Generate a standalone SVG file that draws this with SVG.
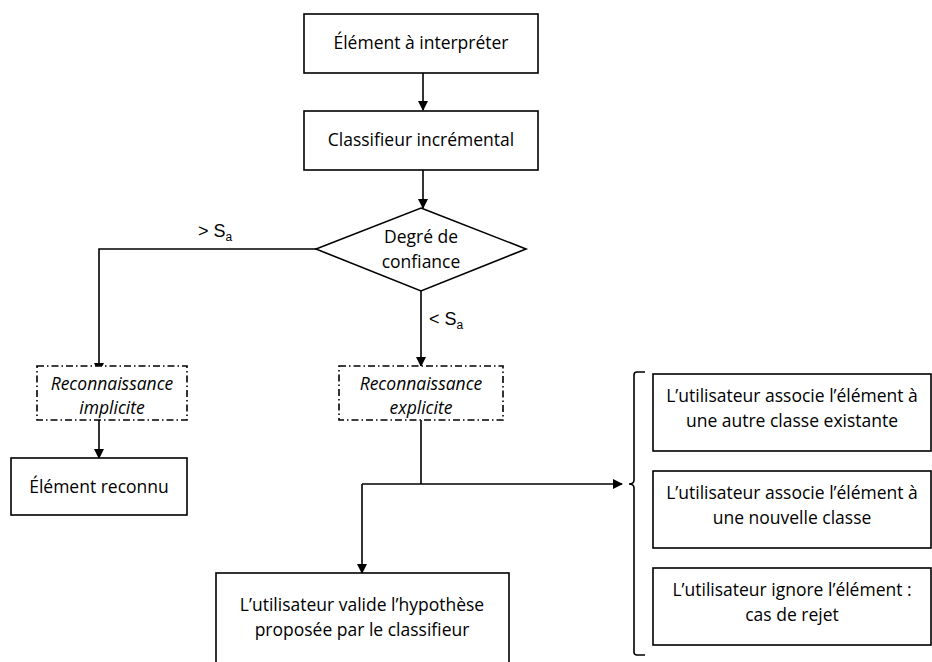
<svg xmlns="http://www.w3.org/2000/svg" width="932" height="662" viewBox="0 0 932 662">
<style>
.b{fill:#fff;stroke:#000;stroke-width:1.6}
.d{fill:#fff;stroke:#000;stroke-width:1.6;stroke-dasharray:7,3,1.5,3}
.t{font-family:"Open Sans","Liberation Sans",sans-serif;font-size:17.5px;fill:#000;text-anchor:middle}
.s{font-family:"Liberation Sans",Arial,sans-serif;font-size:18px;fill:#000;text-anchor:middle}
.i{font-style:italic}
.c{fill:none;stroke:#000;stroke-width:1.6}
</style>
<defs>
<marker id="a" markerWidth="10" markerHeight="10" refX="9" refY="5" orient="auto" markerUnits="userSpaceOnUse">
<path d="M0,0 L10,5 L0,10 z" fill="#000"/>
</marker>
</defs>
<g id="connectors">
<line class="c" x1="423" y1="73" x2="423" y2="110" marker-end="url(#a)"/>
<line class="c" x1="423" y1="170" x2="423" y2="208" marker-end="url(#a)"/>
<polyline class="c" points="316,249 99,249 99,372" marker-end="url(#a)"/>
<line class="c" x1="421" y1="291" x2="421" y2="366" marker-end="url(#a)"/>
<line class="c" x1="99" y1="420" x2="99" y2="458" marker-end="url(#a)"/>
<line class="c" x1="421" y1="420" x2="421" y2="484"/>
<line class="c" x1="362" y1="484" x2="622" y2="484" marker-end="url(#a)"/>
<line class="c" x1="362" y1="484" x2="362" y2="573" marker-end="url(#a)"/>
<path class="c" d="M645,372 H637 Q634,372 634,375 V480 Q634,484 629,484 Q634,484 634,488 V652 Q634,655 637,655 H645"/>
<text class="s" x="215" y="237">&gt; S<tspan font-size="12" dy="4">a</tspan></text>
<text class="s" x="446" y="325">&lt; S<tspan font-size="12" dy="4">a</tspan></text>
</g>
<g id="n1"><rect class="b" x="304" y="14" width="234" height="59"/><text class="t" x="421" y="49">Élément à interpréter</text></g>
<g id="n2"><rect class="b" x="304" y="111" width="234" height="59"/><text class="t" x="421" y="146">Classifieur incrémental</text></g>
<g id="n3"><polygon class="b" points="421,208 526,249 421,291 316,249"/><text class="t" x="421" y="243">Degré de</text><text class="t" x="421" y="268">confiance</text></g>
<g id="n4"><rect class="d" x="37" y="366" width="150" height="54"/><text class="t i" x="112" y="390">Reconnaissance</text><text class="t i" x="112" y="414">implicite</text></g>
<g id="n5"><rect class="d" x="339" y="366" width="164" height="54"/><text class="t i" x="421" y="390">Reconnaissance</text><text class="t i" x="421" y="414">explicite</text></g>
<g id="n6"><rect class="b" x="11" y="458" width="176" height="57"/><text class="t" x="99" y="493">Élément reconnu</text></g>
<g id="n7"><rect class="b" x="216" y="573" width="293" height="92"/><text class="t" x="362" y="611">L’utilisateur valide l’hypothèse</text><text class="t" x="362" y="636">proposée par le classifieur</text></g>
<g id="n8"><rect class="b" x="653" y="374" width="278" height="77"/><text class="t" x="792" y="402">L’utilisateur associe l’élément à</text><text class="t" x="792" y="427">une autre classe existante</text></g>
<g id="n9"><rect class="b" x="653" y="471" width="278" height="77"/><text class="t" x="792" y="499">L’utilisateur associe l’élément à</text><text class="t" x="792" y="524">une nouvelle classe</text></g>
<g id="n10"><rect class="b" x="653" y="568" width="278" height="77"/><text class="t" x="792" y="596">L’utilisateur ignore l’élément :</text><text class="t" x="792" y="621">cas de rejet</text></g>
</svg>
